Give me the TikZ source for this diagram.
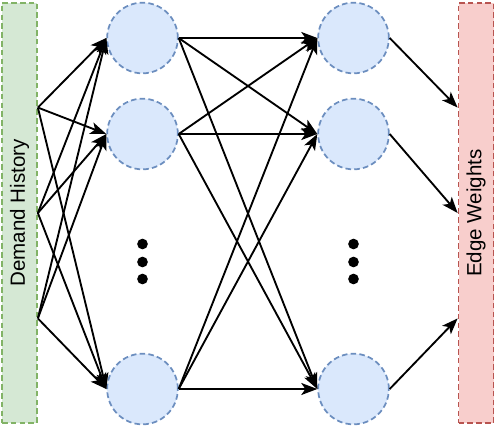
\documentclass[tikz,border=0pt]{standalone}
\usepackage{fontspec}
\setmainfont{Liberation Sans}
\usepackage{xcolor}
\usetikzlibrary{arrows.meta,calc}

\definecolor{histfill}{HTML}{D5E8D4}
\definecolor{histline}{HTML}{82B366}
\definecolor{wfill}{HTML}{F8CECC}
\definecolor{wline}{HTML}{B85450}
\definecolor{nfill}{HTML}{DAE8FC}
\definecolor{nline}{HTML}{6C8EBF}

\begin{document}
\begin{tikzpicture}[x=0.75pt, y=-0.75pt,
  side/.style={draw, line width=1.3pt, dash pattern=on 4.2pt off 2.4pt, minimum width=26.25pt, minimum height=315pt, inner sep=0pt, font=\fontsize{15.4}{18}\selectfont},
  neuron/.style={circle, draw=nline, fill=nfill, line width=1.3pt, dash pattern=on 4.2pt off 2.4pt, minimum size=53pt, inner sep=0pt},
  dot/.style={circle, fill=black, minimum size=8pt, inner sep=0pt},
  arrow/.style={-{Stealth[length=12pt, width=9pt, inset=3pt]}, line width=1.4pt},
]
\useasboundingbox (0,0) rectangle (496,428);

\node[side, draw=histline, fill=histfill] (hist) at (19.5,213) {\rotatebox{90}{Demand History}};
\node[side, draw=wline, fill=wfill] (weights) at (476,213) {\rotatebox{90}{Edge Weights}};

\node[neuron] (a1) at (142.5,38) {};
\node[neuron] (a2) at (142.5,134) {};
\node[neuron] (a3) at (142.5,389) {};
\node[neuron] (b1) at (353.5,38) {};
\node[neuron] (b2) at (353.5,134) {};
\node[neuron] (b3) at (353.5,389) {};

\node[dot] (adot1) at (142.5,244) {};
\node[dot] (adot2) at (142.5,262) {};
\node[dot] (adot3) at (142.5,279) {};
\node[dot] (bdot1) at (353.5,244) {};
\node[dot] (bdot2) at (353.5,262) {};
\node[dot] (bdot3) at (353.5,279) {};

\foreach \i/\f in {1/0.25, 2/0.5, 3/0.75} {
  \coordinate (h\i) at ($(hist.north east)!\f!(hist.south east)$);
  \coordinate (w\i) at ($(weights.north west)!\f!(weights.south west)$);
}

\foreach \i in {1,2,3}
  \foreach \j in {1,2,3} {
    \draw[arrow] (h\i) -- (a\j.west);
    \draw[arrow] (a\i.east) -- (b\j.west);
  }

\foreach \i in {1,2,3}
  \draw[arrow] (b\i.east) -- (w\i);

\end{tikzpicture}
\end{document}
